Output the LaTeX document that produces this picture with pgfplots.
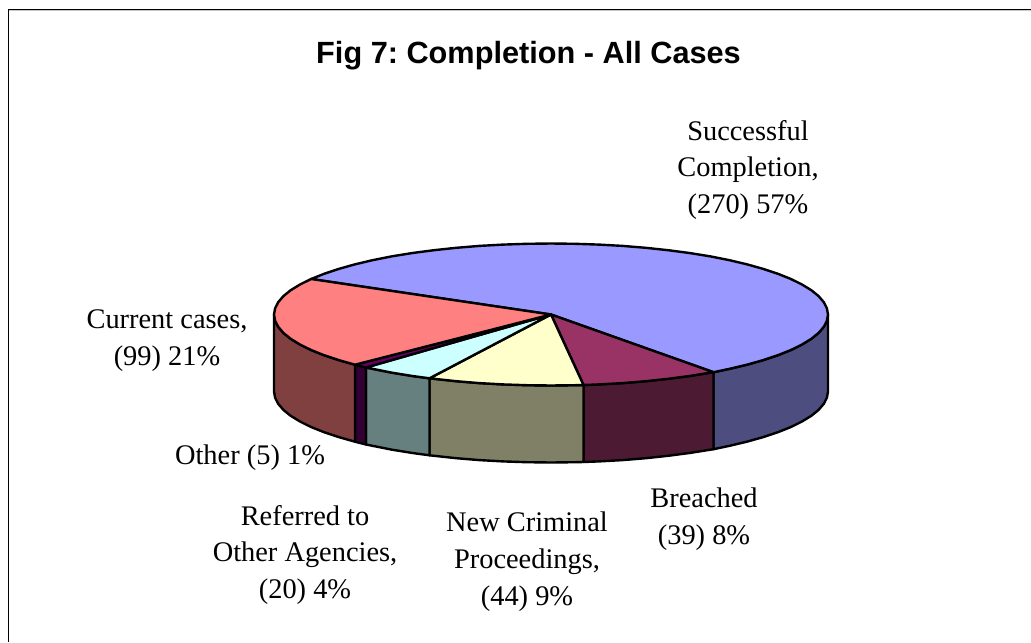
\documentclass[border=0pt]{standalone}
\usepackage{pgfplots}
\pgfplotsset{compat=1.18}
\usepackage{fontspec}
\setmainfont{Liberation Serif}
\newfontfamily\titlefont{Liberation Sans}
\definecolor{succT}{HTML}{9999FF}\definecolor{succS}{HTML}{4D4D80}
\definecolor{brT}{HTML}{993366}\definecolor{brS}{HTML}{4D1A33}
\definecolor{newT}{HTML}{FFFFCC}\definecolor{newS}{HTML}{808066}
\definecolor{refT}{HTML}{CCFFFF}\definecolor{refS}{HTML}{668080}
\definecolor{othT}{HTML}{660066}\definecolor{othS}{HTML}{330033}
\definecolor{curT}{HTML}{FF8080}\definecolor{curS}{HTML}{804040}
\tikzset{lbl/.style={align=center,font=\fontsize{28.5}{37}\selectfont,inner sep=0pt}}
\frenchspacing
\begin{document}
\begin{tikzpicture}
\begin{axis}[scale only axis,width=1031bp,height=642bp,xmin=0,xmax=1031,ymin=0,ymax=642,y dir=reverse,hide axis,
  clip=false,
  every axis plot/.append style={draw=black,line width=2.4bp,line join=round,mark=none}]
\path[use as bounding box] (axis cs:0,0) rectangle (axis cs:1031,642);
% frame
\addplot[draw=black!22,line width=1bp] coordinates {(9,11)(1031,11)};
\addplot[draw=black,line width=1.3bp] coordinates {(1031,9.4)(8.6,9.4)(8.6,642)};
% side faces
\addplot[fill=succS] coordinates {(828,314.5)(826.9,320.7)(823.8,326.8)(818.6,332.9)(811.3,338.8)(802,344.5)(790.9,350)(777.9,355.2)(763.2,360.1)(746.9,364.7)(729.1,368.9)(713.5,372.2)(713.5,449.2)(729.1,445.9)(746.9,441.7)(763.2,437.1)(777.9,432.2)(790.9,427)(802,421.5)(811.3,415.8)(818.6,409.9)(823.8,403.8)(826.9,397.7)(828,391.5)} --cycle;
\addplot[fill=brS] coordinates {(713.5,372.2)(689.5,376)(668.1,378.8)(645.7,381.2)(622.7,383.1)(599.1,384.4)(583.5,385)(583.5,462)(599.1,461.4)(622.7,460.1)(645.7,458.2)(668.1,455.8)(689.5,453)(713.5,449.2)} --cycle;
\addplot[fill=newS] coordinates {(583.5,385)(575.1,385.2)(551,385.5)(526.9,385.2)(502.9,384.4)(479.3,383.1)(456.3,381.2)(429.5,378.3)(429.5,455.3)(456.3,458.2)(479.3,460.1)(502.9,461.4)(526.9,462.2)(551,462.5)(575.1,462.2)(583.5,462)} --cycle;
\addplot[fill=refS] coordinates {(429.5,378.3)(412.5,376)(392.1,372.7)(372.9,368.9)(366,367.5)(366,444.5)(372.9,445.9)(392.1,449.7)(412.5,453)(429.5,455.3)} --cycle;
\addplot[fill=othS] coordinates {(366,367.5)(355,364.7)(355,441.7)(366,444.5)} --cycle;
\addplot[fill=curS] coordinates {(355,364.7)(338.8,360.1)(324.1,355.2)(311.1,350)(300,344.5)(290.7,338.8)(283.4,332.9)(278.2,326.8)(275.1,320.7)(274,314.5)(274,391.5)(275.1,397.7)(278.2,403.8)(283.4,409.9)(290.7,415.8)(300,421.5)(311.1,427)(324.1,432.2)(338.8,437.1)(355,441.7)} --cycle;
% top faces
\addplot[fill=succT] coordinates {(551,314.5)(713.5,372.2)(729.1,368.9)(746.9,364.7)(763.2,360.1)(777.9,355.2)(790.9,350)(802,344.5)(811.3,338.8)(818.6,332.9)(823.8,326.8)(826.9,320.7)(828,314.5)(826.9,308.3)(823.8,302.2)(818.6,296.1)(811.3,290.2)(802,284.5)(790.9,279)(777.9,273.8)(763.2,268.9)(746.9,264.3)(729.1,260.1)(709.9,256.3)(689.5,253)(668.1,250.2)(645.7,247.8)(622.7,245.9)(599.1,244.6)(575.1,243.8)(551,243.5)(526.9,243.8)(502.9,244.6)(479.3,245.9)(456.3,247.8)(433.9,250.2)(412.5,253)(392.1,256.3)(372.9,260.1)(355.1,264.3)(338.8,268.9)(324.1,273.8)(311.1,279)} --cycle;
\addplot[fill=brT] coordinates {(551,314.5)(713.5,372.2)(689.5,376)(668.1,378.8)(645.7,381.2)(622.7,383.1)(599.1,384.4)(583.5,385)} --cycle;
\addplot[fill=newT] coordinates {(551,314.5)(583.5,385)(575.1,385.2)(551,385.5)(526.9,385.2)(502.9,384.4)(479.3,383.1)(456.3,381.2)(429.5,378.3)} --cycle;
\addplot[fill=refT] coordinates {(551,314.5)(429.5,378.3)(412.5,376)(392.1,372.7)(372.9,368.9)(366,367.5)} --cycle;
\addplot[fill=othT] coordinates {(551,314.5)(366,367.5)(355,364.7)} --cycle;
\addplot[fill=curT] coordinates {(551,314.5)(355,364.7)(338.8,360.1)(324.1,355.2)(311.1,350)(300,344.5)(290.7,338.8)(283.4,332.9)(278.2,326.8)(275.1,320.7)(274,314.5)(275.1,308.3)(278.2,302.2)(283.4,296.1)(290.7,290.2)(300,284.5)(311.1,279)} --cycle;
% labels
\node[inner sep=0pt,font=\titlefont\bfseries\fontsize{30.8}{36}\selectfont] at (axis cs:528.5,56) {Fig 7: Completion - All Cases};
\node[lbl] at (axis cs:748,170) {Successful\\Completion,\\(270) 57\%};
\node[lbl] at (axis cs:167,341) {Current cases,\\(99) 21\%};
\node[lbl] at (axis cs:250,458) {Other (5) 1\%};
\node[lbl] at (axis cs:305,555) {Referred to\\Other Agencies,\\(20) 4\%};
\node[lbl] at (axis cs:527,562) {New Criminal\\Proceedings,\\(44) 9\%};
\node[lbl] at (axis cs:704,519) {Breached\\(39) 8\%};
\end{axis}
\end{tikzpicture}
\end{document}
